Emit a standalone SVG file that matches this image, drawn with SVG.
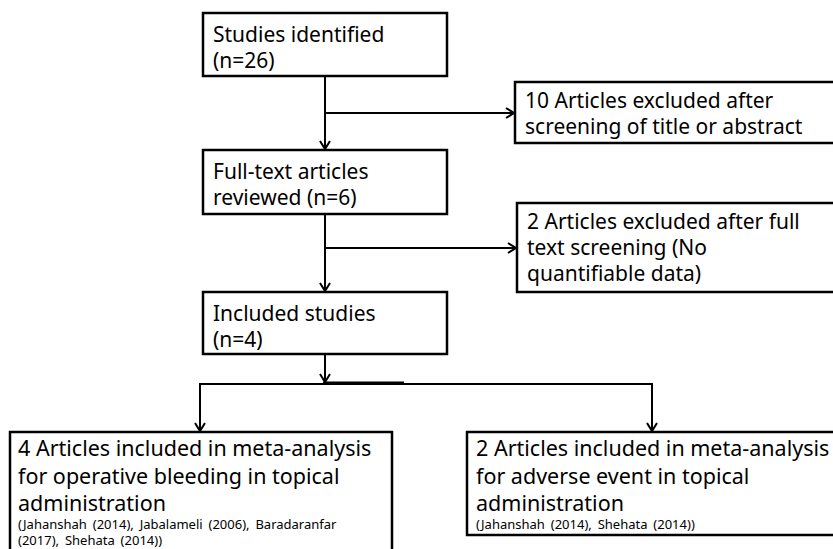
<svg xmlns="http://www.w3.org/2000/svg" width="833" height="549" viewBox="0 0 833 549">
<style>
.box{fill:#fff;stroke:#000;stroke-width:2.5}
.t{font-family:"Noto Sans","Open Sans","Liberation Sans",sans-serif;font-size:21px;fill:#000}
.tb{font-family:"Noto Sans","Open Sans","Liberation Sans",sans-serif;font-size:21.5px;fill:#000}
.ts{font-family:"Noto Sans","Open Sans","Liberation Sans",sans-serif;font-size:13px;word-spacing:2.5px;fill:#000}
.c{fill:none;stroke:#000;stroke-width:2}
</style>
<defs>
<marker id="ah" markerWidth="12" markerHeight="12" refX="10" refY="6" orient="auto" markerUnits="userSpaceOnUse">
<path d="M2,1 L10,6 L2,11" fill="none" stroke="#000" stroke-width="2"/>
</marker>
</defs>
<rect width="833" height="549" fill="#fff"/>
<g id="connectors">
<line class="c" x1="325" y1="76" x2="325" y2="149" marker-end="url(#ah)"/>
<line class="c" x1="325" y1="113" x2="514" y2="113" marker-end="url(#ah)"/>
<line class="c" x1="325" y1="214" x2="325" y2="291" marker-end="url(#ah)"/>
<line class="c" x1="325" y1="248" x2="516" y2="248" marker-end="url(#ah)"/>
<line class="c" x1="325" y1="354" x2="325" y2="382" marker-end="url(#ah)"/>
<line class="c" x1="200" y1="384" x2="652" y2="384"/>
<line x1="323" y1="383" x2="404" y2="383" stroke="#000" stroke-width="3"/>
<line class="c" x1="200" y1="383" x2="200" y2="431" marker-end="url(#ah)"/>
<line class="c" x1="652" y1="383" x2="652" y2="431" marker-end="url(#ah)"/>
</g>
<g id="n1">
<rect class="box" x="203" y="13" width="244" height="63"/>
<text class="t" x="213" y="42">Studies identified</text>
<text class="t" x="213" y="68">(n=26)</text>
</g>
<g id="n2">
<rect class="box" x="515" y="82" width="322" height="61"/>
<text class="t" x="525" y="108">10 Articles excluded after</text>
<text class="t" x="525" y="134">screening of title or abstract</text>
</g>
<g id="n3">
<rect class="box" x="203" y="150" width="244" height="64"/>
<text class="t" x="213" y="179">Full-text articles</text>
<text class="t" x="213" y="205">reviewed (n=6)</text>
</g>
<g id="n4">
<rect class="box" x="517" y="203" width="320" height="89"/>
<text class="t" x="527" y="229">2 Articles excluded after full</text>
<text class="t" x="527" y="255">text screening (No</text>
<text class="t" x="527" y="281">quantifiable data)</text>
</g>
<g id="n5">
<rect class="box" x="203" y="292" width="244" height="62"/>
<text class="t" x="213" y="321">Included studies</text>
<text class="t" x="213" y="347">(n=4)</text>
</g>
<g id="n6">
<rect class="box" x="10" y="432" width="382" height="130"/>
<text class="tb" x="18" y="456">4 Articles included in meta-analysis</text>
<text class="tb" x="18" y="484">for operative bleeding in topical</text>
<text class="tb" x="18" y="511">administration</text>
<text class="ts" x="18" y="529">(Jahanshah (2014), Jabalameli (2006), Baradaranfar</text>
<text class="ts" x="18" y="545">(2017), Shehata (2014))</text>
</g>
<g id="n7">
<rect class="box" x="467" y="432" width="370" height="103"/>
<text class="tb" x="476" y="456">2 Articles included in meta-analysis</text>
<text class="tb" x="476" y="484">for adverse event in topical</text>
<text class="tb" x="476" y="511">administration</text>
<text class="ts" x="476" y="529">(Jahanshah (2014), Shehata (2014))</text>
</g>
</svg>
